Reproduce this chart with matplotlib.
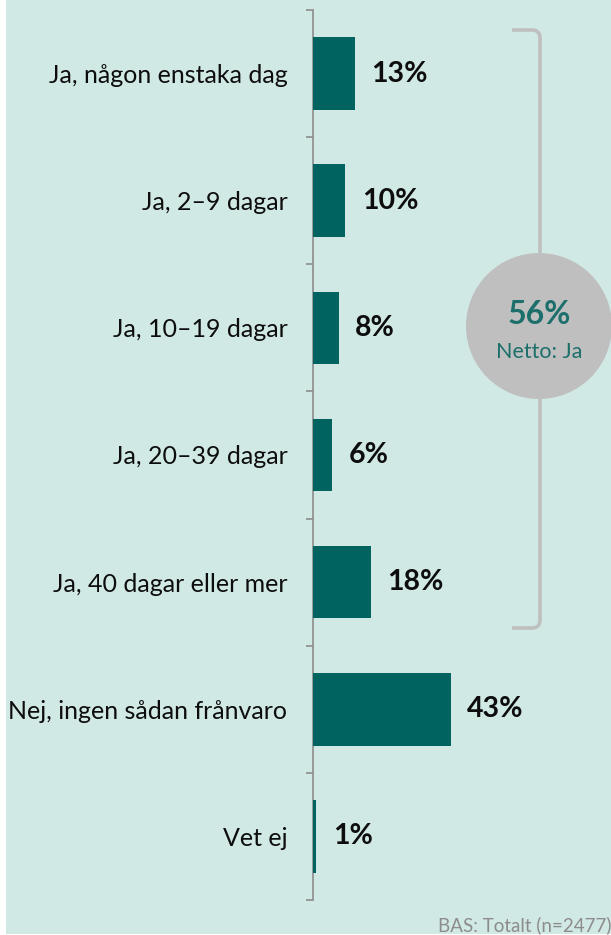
import matplotlib
matplotlib.use("Agg")
import matplotlib.pyplot as plt
from matplotlib.patches import Rectangle, Circle, PathPatch
from matplotlib.path import Path

categories = ["Ja, någon enstaka dag", "Ja, 2–9 dagar", "Ja, 10–19 dagar",
              "Ja, 20–39 dagar", "Ja, 40 dagar eller mer",
              "Nej, ingen sådan frånvaro", "Vet ej"]
values = [13, 10, 8, 6, 18, 43, 1]
value_labels = ["13%", "10%", "8%", "6%", "18%", "43%", "1%"]
net_value = "56%"
net_label = "Netto: Ja"
base_note = "BAS: Totalt (n=2477)"

W, H = 611, 935
BG = "#d1e9e5"
BAR = "#00635f"
GREY = "#bfbfbf"
TEAL = "#1c6f6b"

plt.rcParams['font.family'] = ['Lato', 'DejaVu Sans']

fig = plt.figure(figsize=(W / 100, H / 100), dpi=100, facecolor="white")

# overlay axes in pixel coords
ov = fig.add_axes([0, 0, 1, 1])
ov.set_xlim(0, W)
ov.set_ylim(H, 0)
ov.axis("off")
ov.add_patch(Rectangle((6, 0), W - 6, H - 1, facecolor=BG, edgecolor="none", zorder=0))

# bar axes
x0, x1 = 313, W
y_top, y_bot = 10, 900
px_per_unit = 3.2
ax = fig.add_axes([x0 / W, 1 - y_bot / H, (x1 - x0) / W, (y_bot - y_top) / H])
ax.patch.set_alpha(0)
ax.set_xlim(0, (x1 - x0) / px_per_unit)
n = len(categories)
ax.set_ylim(n - 0.5, -0.5)
ypos = list(range(n))
ax.barh(ypos, values, height=0.57, color=BAR, zorder=3)
for y, v, lab in zip(ypos, values, value_labels):
    ax.annotate(lab, (v, y), xytext=(12, 0), textcoords="offset points",
                ha="left", va="center", fontsize=20.5, fontweight="bold", color="#0d0d0d")
ax.set_yticks(ypos)
ax.set_yticklabels(categories, fontsize=18, color="#0d0d0d")
ax.tick_params(axis="y", which="major", length=0, pad=18.5)
ax.set_yticks([i - 0.5 for i in range(n + 1)], minor=True)
ax.tick_params(axis="y", which="minor", length=5, width=1.2, color="#8c8c8c", direction="out")
ax.set_xticks([])
for s in ["top", "right", "bottom"]:
    ax.spines[s].set_visible(False)
ax.spines["left"].set_color("#8c8c8c")
ax.spines["left"].set_linewidth(1.2)

# bracket
bx, by0, by1, bl = 540, 30, 628, 512
r = 8
verts = [(bl, by0), (bx - r, by0), (bx, by0), (bx, by0 + r),
         (bx, by1 - r), (bx, by1), (bx - r, by1), (bl, by1)]
codes = [Path.MOVETO, Path.LINETO, Path.CURVE3, Path.CURVE3,
         Path.LINETO, Path.CURVE3, Path.CURVE3, Path.LINETO]
ov.add_patch(PathPatch(Path(verts, codes), facecolor="none", edgecolor=GREY, lw=2.6, zorder=2))
ov.add_patch(Circle((539, 326), 73, facecolor=GREY, edgecolor="none", zorder=3))
ov.text(539, 315, net_value, ha="center", va="center", fontsize=23, fontweight="bold", color=TEAL, zorder=4)
ov.text(539, 352, net_label, ha="center", va="center", fontsize=15.5, color=TEAL, zorder=4)
ov.text(W + 1, 925, base_note, ha="right", va="center", fontsize=13.5, color="#8c8c8c", zorder=4)

fig.savefig("out.png", dpi=100, facecolor="white")
